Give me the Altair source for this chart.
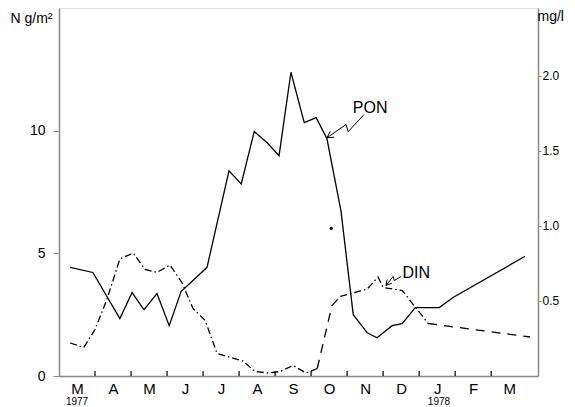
import altair as alt
import pandas as pd

# ---------------- data ----------------
MONTH_LABELS = ["M", "A", "M", "J", "J", "A", "S", "O", "N", "D", "J", "F", "M"]
MONTH_CENTERS = [0.5, 1.5, 2.5, 3.5, 4.5, 5.5, 6.5, 7.5, 8.5, 9.5, 10.5, 11.5, 12.5]
MONTH_TICKS = [1, 2, 3, 4, 5, 6, 7, 8, 9, 10, 11, 12]
YEAR_LABELS = ["1977", "1978"]
YEAR_POS = [0.5, 10.55]

# PON (N g/m2, left axis); x = months since 1 March 1977
PON_MONTH = [0.31, 0.94, 1.69, 2.03, 2.36, 2.72, 3.06, 3.39, 4.11, 4.72, 5.06, 5.42,
             5.78, 6.11, 6.44, 6.81, 7.14, 7.44, 7.83, 8.17, 8.56, 8.83, 9.25, 9.53,
             9.89, 10.56, 10.94, 12.94]
PON_VALUE = [4.43, 4.22, 2.34, 3.40, 2.70, 3.36, 2.05, 3.44, 4.43, 8.36, 7.83, 9.96,
             9.51, 8.98, 12.38, 10.33, 10.53, 9.67, 6.72, 2.50, 1.76, 1.56, 2.05, 2.13,
             2.79, 2.79, 3.20, 4.88]

# single isolated observation
DOT_MONTH = [7.56]
DOT_VALUE = [6.02]

# DIN (mg/l, right axis)
DIN_MONTH = [0.31, 0.69, 1.00, 1.33, 1.69, 2.06, 2.39, 2.72, 3.08, 3.42, 3.72, 4.06,
             4.39, 4.81, 5.11, 5.44, 5.81, 6.14, 6.50, 6.86, 7.17, 7.58, 7.81, 8.56,
             8.86, 9.00, 9.53, 9.89, 10.25, 13.08]
DIN_VALUE = [0.22, 0.19, 0.31, 0.51, 0.78, 0.82, 0.71, 0.69, 0.74, 0.62, 0.45, 0.37,
             0.15, 0.12, 0.10, 0.03, 0.02, 0.03, 0.07, 0.02, 0.05, 0.47, 0.53, 0.58,
             0.66, 0.59, 0.57, 0.46, 0.35, 0.26]

# annotation labels and arrows (in left-axis units)
LABEL_TEXT = ["PON", "DIN"]
LABEL_MONTH = [8.64, 9.92]
LABEL_VALUE = [10.74, 3.98]
PON_ARROW_MONTH = [8.47, 8.03, 7.97, 7.44]
PON_ARROW_VALUE = [10.66, 9.96, 10.25, 9.71]
PON_HEAD_MONTH = [7.64, 7.44, 7.53]
PON_HEAD_VALUE = [9.73, 9.71, 9.97]
DIN_ARROW_MONTH = [9.50, 9.31, 9.28, 9.08]
DIN_ARROW_VALUE = [4.06, 3.89, 4.06, 3.69]
DIN_HEAD_MONTH = [9.24, 9.08, 9.11]
DIN_HEAD_VALUE = [3.78, 3.69, 3.93]

# ---------------- tables ----------------
pon_df = pd.DataFrame({"x": PON_MONTH, "y": PON_VALUE})
dot_df = pd.DataFrame({"x": DOT_MONTH, "y": DOT_VALUE})
lab_df = pd.DataFrame({"x": LABEL_MONTH, "y": LABEL_VALUE, "t": LABEL_TEXT})
year_df = pd.DataFrame({"x": YEAR_POS, "y": [0] * len(YEAR_POS), "t": YEAR_LABELS})
tick_df = pd.DataFrame({"x": MONTH_TICKS, "y": [0] * len(MONTH_TICKS),
                        "y2": [0.2] * len(MONTH_TICKS)})

arrow_rows = []
for aid, (xs, ys) in enumerate([(PON_ARROW_MONTH, PON_ARROW_VALUE),
                                (PON_HEAD_MONTH, PON_HEAD_VALUE),
                                (DIN_ARROW_MONTH, DIN_ARROW_VALUE),
                                (DIN_HEAD_MONTH, DIN_HEAD_VALUE)]):
    for i, (a, b) in enumerate(zip(xs, ys)):
        arrow_rows.append({"x": a, "y": b, "id": aid, "i": i})
arrow_df = pd.DataFrame(arrow_rows)

# line-style segments of the DIN curve (index ranges)
DIN_SEGMENTS = [(0, 20, "dashdot"), (20, 22, "dash"), (22, 28, "dashdot"), (28, 29, "dash")]
din_rows = []
for sid, (a, b, style) in enumerate(DIN_SEGMENTS):
    for i in range(a, b + 1):
        din_rows.append({"x": DIN_MONTH[i], "y": DIN_VALUE[i], "seg": sid,
                         "style": style, "i": i})
din_df = pd.DataFrame(din_rows)

# ---------------- encodings ----------------
FONT = "Liberation Sans"
NARROW = "Liberation Sans Narrow, Liberation Sans"
label_expr = "[" + ",".join("'%s'" % m for m in MONTH_LABELS) + "][floor(datum.value)]"

X = alt.X("x:Q",
          scale=alt.Scale(domain=[0, 13.3], nice=False, zero=False),
          axis=alt.Axis(values=MONTH_CENTERS, labelExpr=label_expr, ticks=False,
                        tickSize=0, labelPadding=5, labelFontSize=15, title=None,
                        grid=False, labelFlush=False, labelOverlap=False,
                        domainWidth=1.5))

YL = alt.Y("y:Q",
           scale=alt.Scale(domain=[0, 15], nice=False),
           axis=alt.Axis(values=[0, 5, 10], title="N g/m²", titleAngle=0,
                         titleAlign="right", titleX=-7, titleY=14,
                         titleBaseline="alphabetic", titleFontSize=14,
                         titleFontWeight="normal", labelFontSize=14, tickSize=6,
                         labelPadding=8, grid=False, domainWidth=1.5))

YR = alt.Y("y:Q",
           scale=alt.Scale(domain=[0, 2.453], nice=False),
           axis=alt.Axis(orient="right", values=[0.5, 1.0, 1.5, 2.0], format=".1f",
                         title="mg/l", titleAngle=0, titleAlign="left", titleX=-1,
                         titleY=12, titleBaseline="alphabetic", titleFontSize=14,
                         titleFontWeight="normal", labelFontSize=12,
                         labelFont=NARROW, tickSize=3, labelPadding=1, grid=False,
                         domainWidth=1.5))

pon_line = alt.Chart(pon_df).mark_line(color="black", strokeWidth=1.3).encode(x=X, y=YL)
dot = alt.Chart(dot_df).mark_circle(color="black", size=10, opacity=1).encode(x=X, y=YL)
arrows = alt.Chart(arrow_df).mark_line(color="black", strokeWidth=1.0).encode(
    x=X, y=YL, detail="id:N", order="i:Q")
labels = alt.Chart(lab_df).mark_text(font=FONT, fontSize=16, baseline="alphabetic",
                                     align="center", color="black").encode(
    x=X, y=YL, text="t:N")
years = alt.Chart(year_df).mark_text(font=NARROW, fontSize=10, baseline="alphabetic",
                                     align="center", dy=29, color="black").encode(
    x=X, y=YL, text="t:N")
ticks = alt.Chart(tick_df).mark_rule(color="black", strokeWidth=1.2).encode(
    x=X, y=YL, y2="y2:Q")

left = alt.layer(pon_line, dot, arrows, labels, years, ticks)

right = alt.Chart(din_df).mark_line(color="black", strokeWidth=1.3).encode(
    x=X, y=YR, detail="seg:N", order="i:Q",
    strokeDash=alt.StrokeDash("style:N",
                              scale=alt.Scale(domain=["dashdot", "dash"],
                                              range=[[7, 3, 1.5, 3], [9, 7]]),
                              legend=None))

chart = alt.layer(left, right).resolve_scale(y="independent").properties(
    width=479, height=368,
    autosize=alt.AutoSizeParams(type="none"),
    padding={"left": 59, "top": 8, "right": 37, "bottom": 31},
).configure_view(stroke=None).configure_axis(
    domainColor="black", tickColor="black", labelColor="black", titleColor="black",
    labelFont=FONT, titleFont=FONT
).configure(background="white")

chart.save("out.html", embed_options={"renderer": "svg", "actions": False})
